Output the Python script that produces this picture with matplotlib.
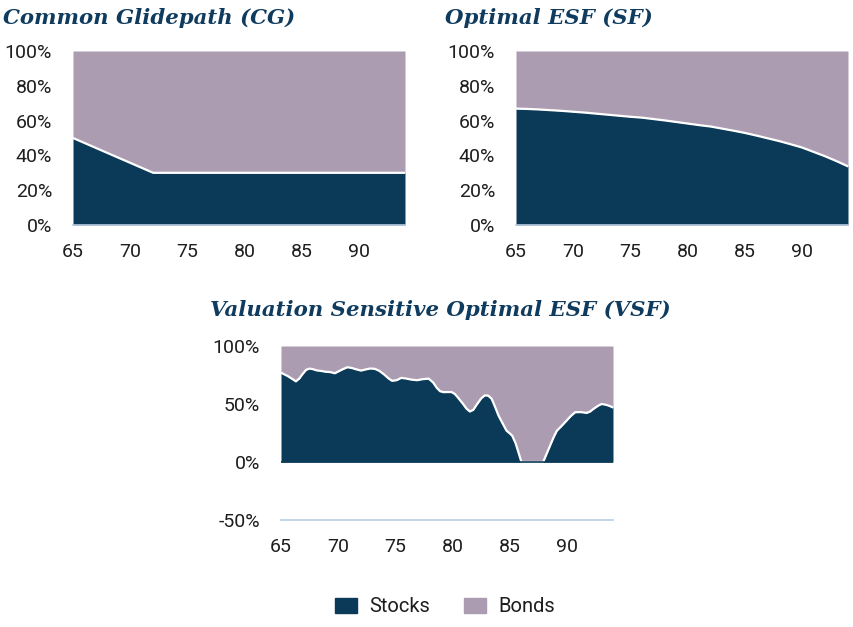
import numpy as np
import matplotlib.pyplot as plt
from matplotlib.patches import Patch

# Common Glidepath (CG): stock share by age
cg_ages = [65, 72, 94]
cg_stocks = [50, 30, 30]

# Optimal ESF (SF)
sf_ages = list(range(65, 95))
sf_stocks = [66.9, 66.7, 66.4, 66.0, 65.6, 65.1, 64.6, 64.0, 63.4, 62.8,
             62.2, 61.7, 60.9, 60.1, 59.2, 58.3, 57.4, 56.6, 55.4, 54.2,
             52.9, 51.4, 49.8, 48.2, 46.4, 44.5, 42.0, 39.5, 36.7, 33.7]

# Valuation Sensitive Optimal ESF (VSF)
vsf_ages = [65.0, 65.3, 65.6, 66.0, 66.3, 66.6, 66.9, 67.2, 67.5, 67.8,
            68.1, 68.5, 68.9, 69.3, 69.7, 70.0, 70.4, 70.8, 71.2, 71.6,
            72.0, 72.4, 72.8, 73.2, 73.6, 74.0, 74.4, 74.7, 75.1, 75.5,
            75.9, 76.4, 76.9, 77.3, 77.9, 78.3, 78.6, 78.9, 79.2, 79.5,
            79.9, 80.2, 80.5, 80.9, 81.2, 81.5, 81.8, 82.1, 82.5, 82.8,
            83.1, 83.4, 83.7, 84.0, 84.4, 84.7, 85.0, 85.2, 85.5, 85.7,
            86.0, 87.9, 88.2, 88.5, 88.8, 89.1, 89.5, 89.95, 90.3, 90.7,
            91.2, 91.7, 92.0, 92.3, 92.7, 93.0, 93.4, 93.7, 94.0]
vsf_stocks = [77, 75.5, 74, 71.5, 69.5, 72, 76, 79.5, 80.5, 80,
              79, 78.5, 77.8, 77.5, 76.5, 78, 80, 81.7, 81, 79.8,
              78.8, 79.8, 80.6, 80.3, 78.5, 75.5, 72, 70, 70.5, 72.5,
              72, 71, 70.5, 71.3, 71.9, 68.4, 64, 61, 60.2, 60.3,
              60.3, 58.5, 55, 50.1, 46, 43.5, 45, 49.5, 55, 57.4,
              57.2, 54.5, 47.5, 40, 32.5, 27, 24.5, 22.6, 16, 9.6,
              0, 0, 7, 14, 21, 27, 31, 35.7, 39.5, 42.9,
              43, 42.3, 43.5, 45.8, 48.5, 50, 49.3, 48.3, 47]

titles = ["Common Glidepath (CG)", "Optimal ESF (SF)",
          "Valuation Sensitive Optimal ESF (VSF)"]
xticks = [65, 70, 75, 80, 85, 90]

STOCK = "#0a3a58"
BOND = "#ab9cb2"
TITLE = "#0f3b5e"
TXT = "#1e1e1e"

plt.rcParams['font.family'] = ['Roboto', 'DejaVu Sans']

fig = plt.figure(figsize=(8.54, 6.27), dpi=100)

W, H = 854, 627


def make_ax(x0, y0, x1, y1):
    return fig.add_axes([x0 / W, 1 - y1 / H, (x1 - x0) / W, (y1 - y0) / H])


def panel(ax, ages, stocks, ymin, yticks):
    ages = np.array(ages)
    stocks = np.array(stocks)
    ax.fill_between(ages, 0, stocks, color=STOCK, lw=0)
    ax.fill_between(ages, stocks, 100, color=BOND, lw=0)
    ax.plot(ages, stocks, color="white", lw=1.6)
    ax.set_xlim(65, 94)
    ax.set_ylim(ymin, 100)
    ax.set_xticks(xticks)
    ax.set_yticks(yticks)
    ax.set_yticklabels([f"{t}%" for t in yticks])
    for s in ["top", "right", "left"]:
        ax.spines[s].set_visible(False)
    ax.spines["bottom"].set_color("#b9cde0")
    ax.spines["bottom"].set_linewidth(1.2)
    ax.tick_params(length=0, labelsize=14, colors=TXT)
    ax.tick_params(axis="y", pad=15)
    ax.tick_params(axis="x", pad=13)


ax1 = make_ax(73, 51, 405, 225)
panel(ax1, cg_ages, cg_stocks, 0, [0, 20, 40, 60, 80, 100])

ax2 = make_ax(516, 51, 848, 225)
panel(ax2, sf_ages, sf_stocks, 0, [0, 20, 40, 60, 80, 100])

ax3 = make_ax(281, 346, 613, 520)
panel(ax3, vsf_ages, vsf_stocks, -50, [-50, 0, 50, 100])
ax3.axhline(0, color=STOCK, lw=1.2)

tkw = dict(family="DejaVu Serif", weight="bold", style="italic",
           color=TITLE, fontsize=15.3, va="baseline", ha="left")
fig.text(3 / W, 1 - 24 / H, titles[0], **tkw)
fig.text(445 / W, 1 - 24 / H, titles[1], **tkw)
fig.text(210 / W, 1 - 316 / H, titles[2], **tkw)

handles = [Patch(color=STOCK, label="Stocks"), Patch(color=BOND, label="Bonds")]
fig.legend(handles=handles, loc="center", bbox_to_anchor=(445 / W, 1 - 607 / H),
           ncol=2, frameon=False, fontsize=14.5, handlelength=1.1,
           handleheight=0.75, handletextpad=0.6, columnspacing=1.7,
           labelcolor=TXT)

fig.savefig("out.png", dpi=100)
